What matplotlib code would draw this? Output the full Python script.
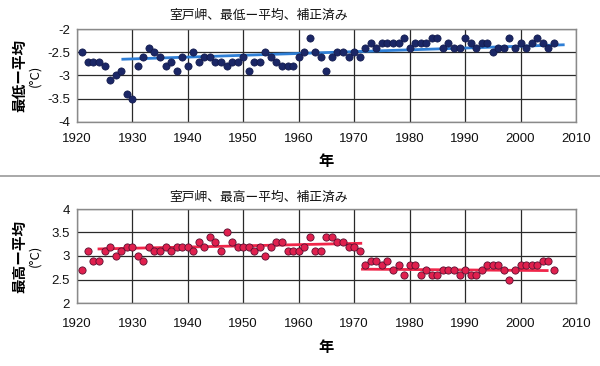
import matplotlib
matplotlib.use("Agg")
import matplotlib.pyplot as plt
from matplotlib.lines import Line2D

plt.rcParams['font.family'] = ['Liberation Sans', 'Noto Sans CJK JP', 'DejaVu Sans']
CJK = ['Noto Sans CJK JP', 'DejaVu Sans']

years = list(range(1921, 2007))

low_vals = [
    -2.5, -2.7, -2.7, -2.7, -2.8, -3.1, -3.0, -2.9, -3.4, -3.5,   # 1921-1930
    -2.8, -2.6, -2.4, -2.5, -2.6, -2.8, -2.7, -2.9, -2.6, -2.8,   # 1931-1940
    -2.5, -2.7, -2.6, -2.6, -2.7, -2.7, -2.8, -2.7, -2.7, -2.6,   # 1941-1950
    -2.9, -2.7, -2.7, -2.5, -2.6, -2.7, -2.8, -2.8, -2.8, -2.6,   # 1951-1960
    -2.5, -2.2, -2.5, -2.6, -2.9, -2.6, -2.5, -2.5, -2.6, -2.5,   # 1961-1970
    -2.6, -2.4, -2.3, -2.4, -2.3, -2.3, -2.3, -2.3, -2.2, -2.4,   # 1971-1980
    -2.3, -2.3, -2.3, -2.2, -2.2, -2.4, -2.3, -2.4, -2.4, -2.2,   # 1981-1990
    -2.3, -2.4, -2.3, -2.3, -2.5, -2.4, -2.4, -2.2, -2.4, -2.3,   # 1991-2000
    -2.4, -2.3, -2.2, -2.3, -2.4, -2.3,                           # 2001-2006
]

high_vals = [
    2.7, 3.1, 2.9, 2.9, 3.1, 3.2, 3.0, 3.1, 3.2, 3.2,   # 1921-1930
    3.0, 2.9, 3.2, 3.1, 3.1, 3.2, 3.1, 3.2, 3.2, 3.2,   # 1931-1940
    3.1, 3.3, 3.2, 3.4, 3.3, 3.1, 3.5, 3.3, 3.2, 3.2,   # 1941-1950
    3.2, 3.1, 3.2, 3.0, 3.2, 3.3, 3.3, 3.1, 3.1, 3.1,   # 1951-1960
    3.2, 3.4, 3.1, 3.1, 3.4, 3.4, 3.3, 3.3, 3.2, 3.2,   # 1961-1970
    3.1, 2.8, 2.9, 2.9, 2.8, 2.9, 2.7, 2.8, 2.6, 2.8,   # 1971-1980
    2.8, 2.6, 2.7, 2.6, 2.6, 2.7, 2.7, 2.7, 2.6, 2.7,   # 1981-1990
    2.6, 2.6, 2.7, 2.8, 2.8, 2.8, 2.7, 2.5, 2.7, 2.8,   # 1991-2000
    2.8, 2.8, 2.8, 2.9, 2.9, 2.7,                      # 2001-2006
]

low_trend_x = [1928.3, 2007.7]
low_trend_y = [-2.65, -2.34]
high_trend1_x = [1924.0, 1971.2]
high_trend1_y = [3.15, 3.27]
high_trend2_x = [1971.5, 2004.8]
high_trend2_y = [2.72, 2.69]

title_low = "室戸岬、最低ー平均、補正済み"
title_high = "室戸岬、最高ー平均、補正済み"
ylabel_low = "最低ー平均"
ylabel_high = "最高ー平均"
yunit = "(°C)"
xlabel = "年"
xticks = list(range(1920, 2011, 10))

fig = plt.figure(figsize=(6.0, 3.66), dpi=100)
fig.patch.set_facecolor('white')

ax1 = fig.add_axes([0.128, 1 - 122 / 366, 0.832, 93 / 366])
ax2 = fig.add_axes([0.128, 1 - 303 / 366, 0.832, 94 / 366])


def style(ax, ylim, yticks, yticklabels, xpad):
    ax.set_xlim(1920, 2010)
    ax.set_ylim(*ylim)
    ax.set_xticks(xticks)
    ax.set_yticks(yticks)
    ax.set_yticklabels(yticklabels)
    ax.grid(True, color='#2a2a2a', linewidth=0.9)
    ax.set_axisbelow(True)
    for s in ax.spines.values():
        s.set_color('#8a8a8a')
        s.set_linewidth(1.0)
    ax.tick_params(length=0, labelsize=9.5, colors='#111111')
    ax.tick_params(axis='y', pad=5)
    ax.tick_params(axis='x', pad=xpad)


def labels(ax, title, ylab, ycenter_px, title_px):
    ax.set_xlabel(xlabel, fontsize=11, fontweight='bold', labelpad=6, family=CJK)
    yc = 1 - ycenter_px / 366
    fig.text(19.5 / 600, yc, ylab, rotation=90, ha='center', va='center',
             fontsize=10.5, fontweight='bold', family=CJK)
    fig.text(35 / 600, yc, yunit, rotation=90, ha='center', va='center',
             fontsize=9.5, family=CJK)
    fig.text(259 / 600, 1 - title_px / 366, title, ha='center', va='center',
             fontsize=9.2, family=CJK, color='#111111')


style(ax1, (-4, -2), [-4, -3.5, -3, -2.5, -2], ['-4', '-3.5', '-3', '-2.5', '-2'], 8)
ax1.plot(low_trend_x, low_trend_y, color='#2f7fd6', linewidth=2.0, zorder=2)
ax1.plot(years, low_vals, linestyle='none', marker='o', markersize=5.2,
         markerfacecolor='#1b2766', markeredgecolor='#101848', markeredgewidth=0.5, zorder=3)
labels(ax1, title_low, ylabel_low, 75.5, 15)

style(ax2, (2, 4), [2, 2.5, 3, 3.5, 4], ['2', '2.5', '3', '3.5', '4'], 11)
ax2.plot(high_trend1_x, high_trend1_y, color='#f0264a', linewidth=2.0, zorder=2)
ax2.plot(high_trend2_x, high_trend2_y, color='#f0264a', linewidth=2.0, zorder=2)
ax2.plot(years, high_vals, linestyle='none', marker='o', markersize=5.2,
         markerfacecolor='#e0204e', markeredgecolor='#5a1030', markeredgewidth=0.6, zorder=3)
labels(ax2, title_high, ylabel_high, 256, 197)

fig.add_artist(Line2D([0, 1], [1 - 176 / 366, 1 - 176 / 366], color='#9a9a9a',
                      linewidth=1.2, transform=fig.transFigure))

fig.savefig('out.png', dpi=100, facecolor='white')
